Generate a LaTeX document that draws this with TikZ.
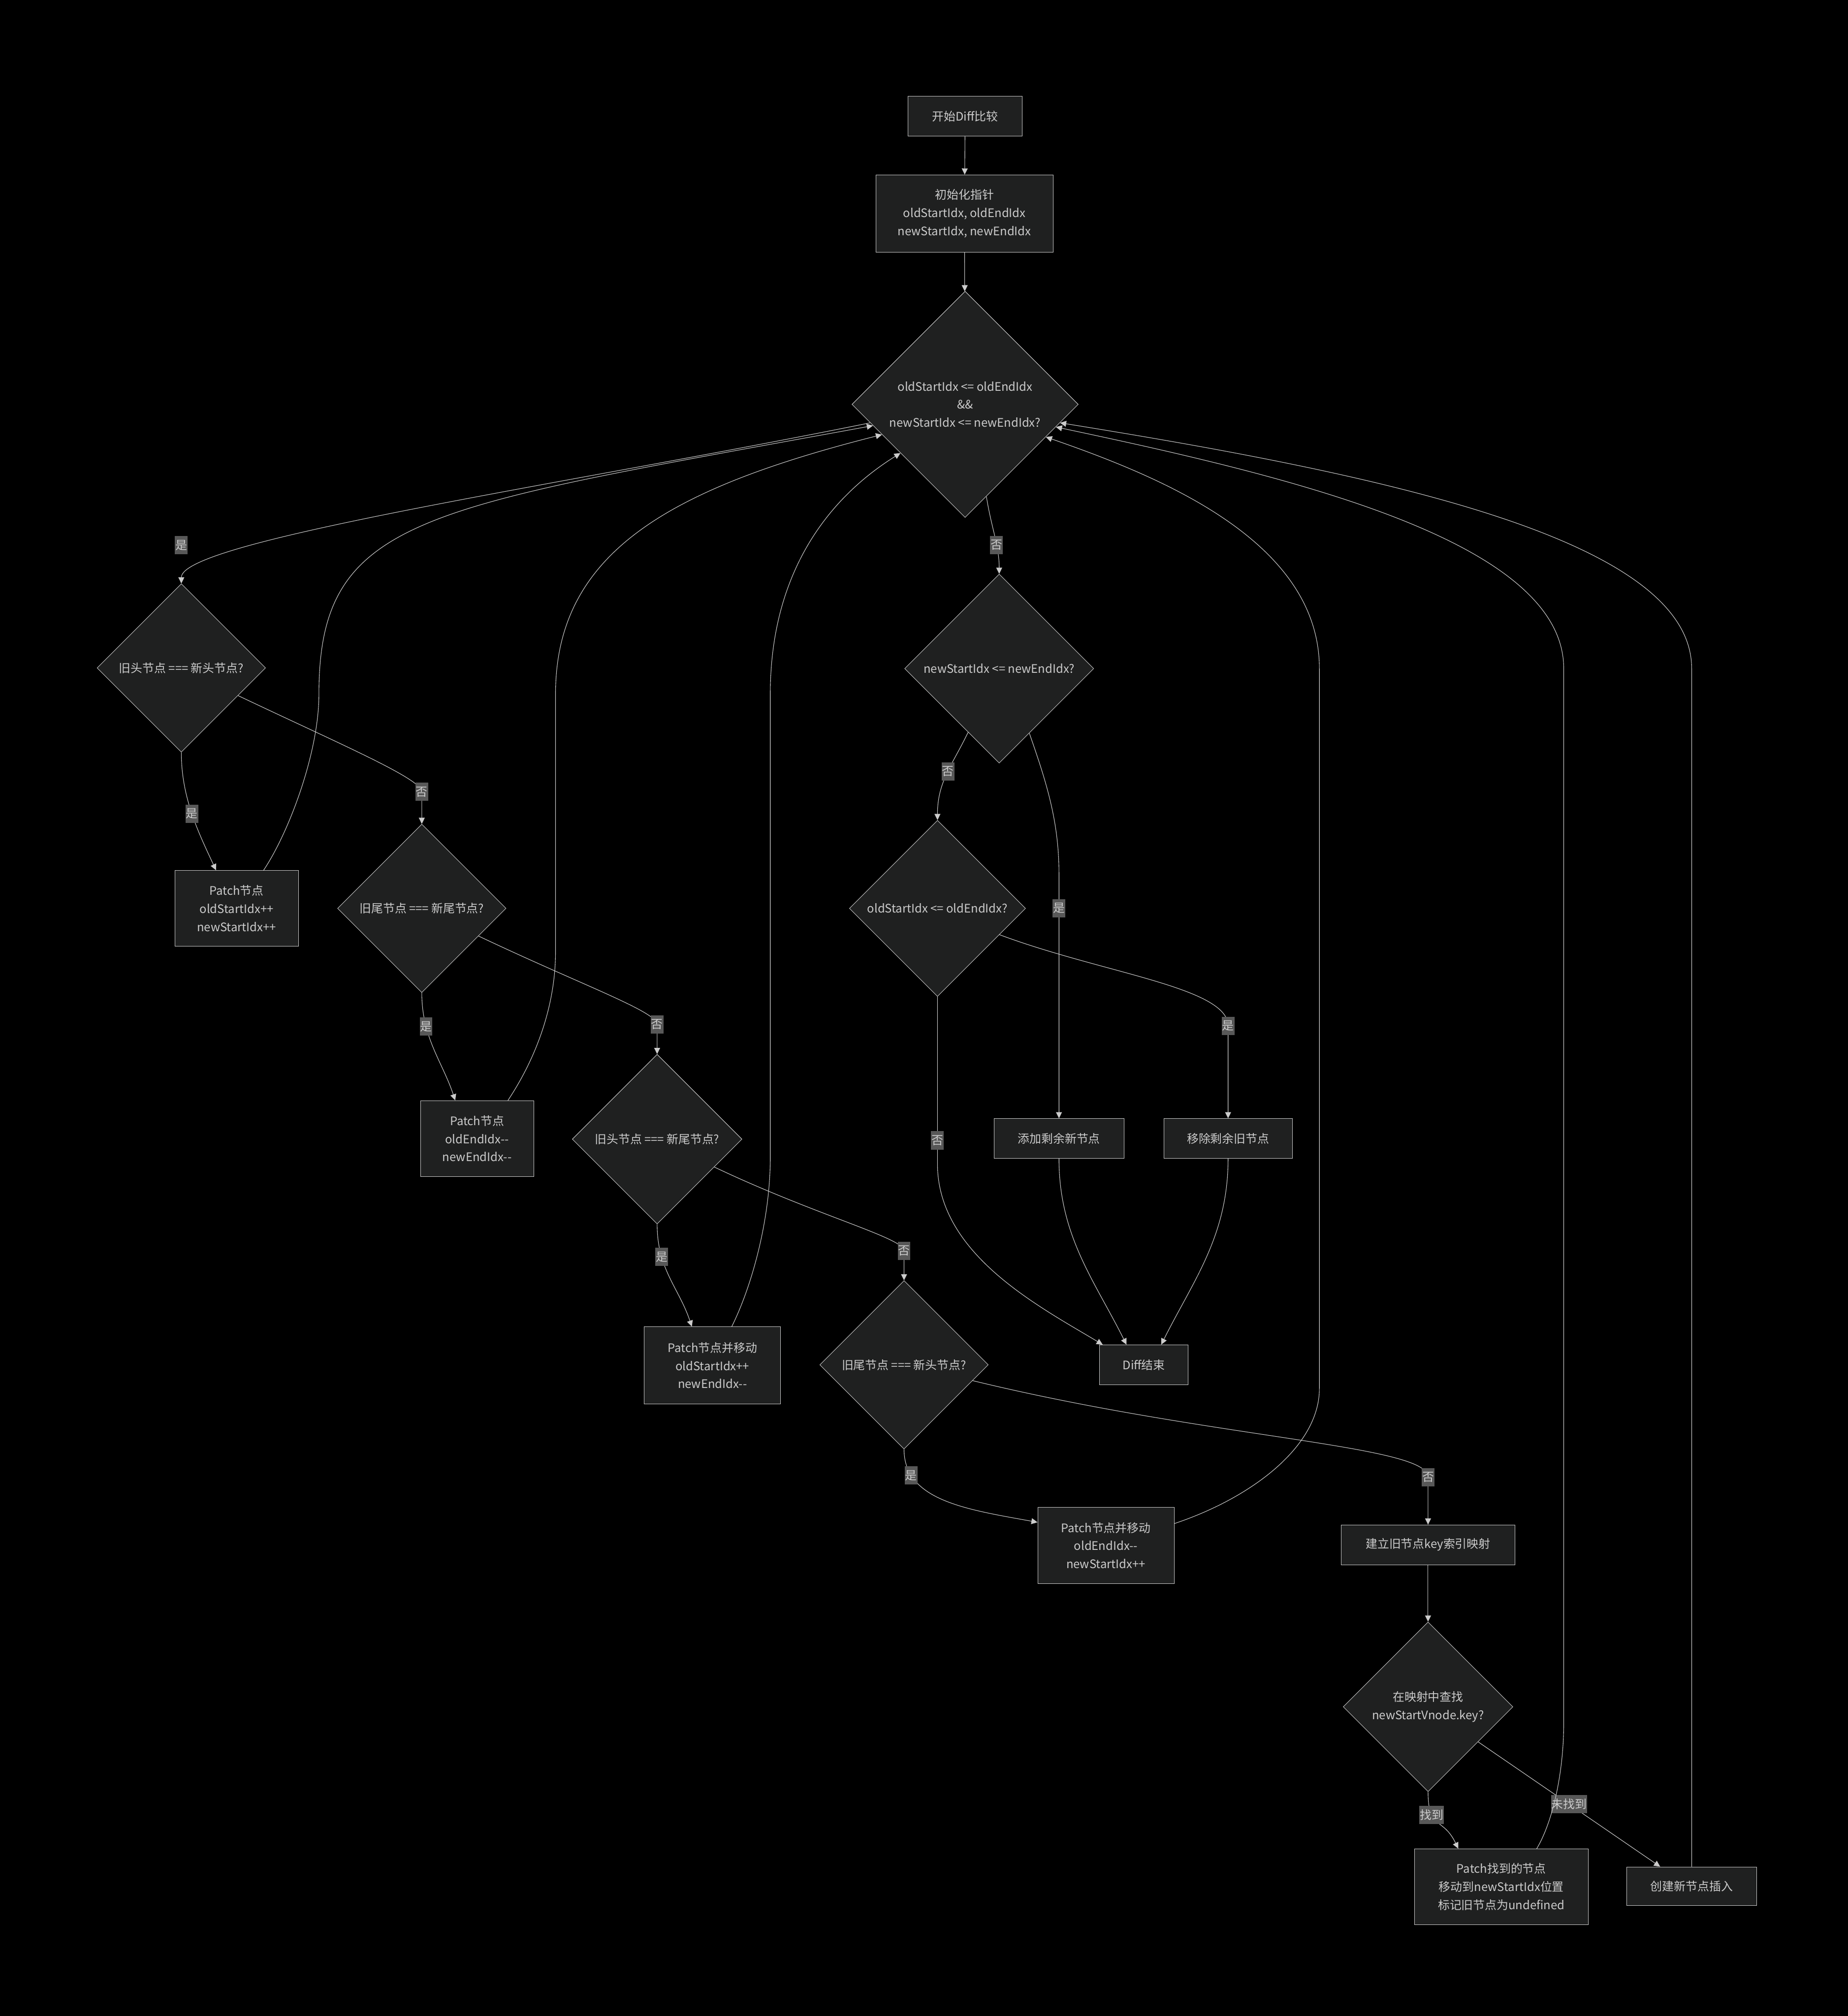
\documentclass[tikz,border=0pt]{standalone}
\usepackage{fontspec}
\setmainfont{Noto Sans CJK SC}
\usetikzlibrary{arrows.meta,shapes.geometric}

\definecolor{bgblack}{HTML}{000000}
\definecolor{boxfill}{HTML}{1F2020}
\definecolor{edgegray}{HTML}{CCCCCC}
\definecolor{lblfill}{HTML}{585858}

\begin{document}
\begin{tikzpicture}[
    x=0.05cm, y=-0.05cm,
    >={Triangle[length=2.4mm,width=2.3mm]},
    every node/.style={font=\fontsize{13}{20}\selectfont, text=edgegray},
    proc/.style={
        draw=edgegray,
        fill=boxfill,
        line width=0.5pt,
        align=center,
        inner sep=2pt
    },
    cond/.style={
        draw=edgegray,
        fill=boxfill,
        line width=0.5pt,
        diamond,
        aspect=1,
        align=center,
        inner sep=0pt
    },
    lbl/.style={
        fill=lblfill,
        inner xsep=0.5pt,
        inner ysep=0pt,
        minimum height=0.71cm
    },
    flow/.style={->, draw=edgegray, line width=0.6pt}
]

\path[use as bounding box, fill=bgblack] (0,0) rectangle (1437,1568);

\node[proc, minimum width=4.45cm, minimum height=1.55cm] (Start) at (750.5,90.5) {开始Diff比较};
\node[proc, minimum width=6.9cm, minimum height=3cm] (Init) at (750,166)
    {初始化指针\\oldStartIdx, oldEndIdx\\newStartIdx, newEndIdx};
\node[cond, minimum size=8.8cm] (Loop) at (750.5,314.5)
    {oldStartIdx <= oldEndIdx\\ \&\&\\ newStartIdx <= newEndIdx?};

\node[cond, minimum size=6.55cm] (HeadHead) at (141,519.5) {旧头节点 === 新头节点?};
\node[proc, minimum width=4.8cm, minimum height=2.95cm] (PatchHH) at (184,706.5)
    {Patch节点\\oldStartIdx++\\newStartIdx++};
\node[cond, minimum size=6.55cm] (TailTail) at (328,706.5) {旧尾节点 === 新尾节点?};
\node[proc, minimum width=4.4cm, minimum height=2.95cm] (PatchTT) at (371,885.5)
    {Patch节点\\oldEndIdx-{}-\\newEndIdx-{}-};
\node[cond, minimum size=6.6cm] (HeadTail) at (511,886) {旧头节点 === 新尾节点?};
\node[proc, minimum width=5.3cm, minimum height=3cm] (PatchHT) at (554,1062)
    {Patch节点并移动\\oldStartIdx++\\newEndIdx-{}-};
\node[cond, minimum size=6.55cm] (TailHead) at (703,1061.5) {旧尾节点 === 新头节点?};
\node[proc, minimum width=5.3cm, minimum height=2.95cm] (PatchTH) at (860,1202)
    {Patch节点并移动\\oldEndIdx-{}-\\newStartIdx++};
\node[proc, minimum width=6.75cm, minimum height=1.55cm] (KeyMap) at (1110.5,1201.5) {建立旧节点key索引映射};
\node[cond, minimum size=6.6cm] (FindKey) at (1110.5,1327.5) {在映射中查找\\newStartVnode.key?};
\node[proc, minimum width=6.75cm, minimum height=2.95cm] (PatchFound) at (1167.5,1467.5)
    {Patch找到的节点\\移动到newStartIdx位置\\标记旧节点为undefined};
\node[proc, minimum width=5.05cm, minimum height=1.5cm] (CreateNew) at (1315.5,1467) {创建新节点插入};

\node[cond, minimum size=7.35cm] (NewLeft) at (777,520) {newStartIdx <= newEndIdx?};
\node[cond, minimum size=6.85cm] (OldLeft) at (729,706.5) {oldStartIdx <= oldEndIdx?};
\node[proc, minimum width=5.05cm, minimum height=1.55cm] (AddRest) at (823.5,885.5) {添加剩余新节点};
\node[proc, minimum width=5cm, minimum height=1.55cm] (RemoveRest) at (955,885.5) {移除剩余旧节点};
\node[proc, minimum width=3.45cm, minimum height=1.55cm] (DiffEnd) at (889.5,1061.5) {Diff结束};

\draw[flow] (Start) -- (Init);
\draw[flow] (Init) -- (Loop);
\draw[flow] (Loop.191) .. controls (450,375) and (141,420) .. (HeadHead.north)
    node[lbl] at (141,424) {是};
\draw[flow] (Loop.-77) .. controls +(4,25) and +(0,-22) .. (NewLeft.north)
    node[lbl, pos=0.62] {否};

\draw[flow] (HeadHead.south) .. controls +(0,35) and +(-14,-30) .. ([xshift=-0.8cm]PatchHH.north)
    node[lbl, pos=0.5] {是};
\draw[flow] (HeadHead.-26) .. controls +(80,38) and +(0,-10) .. ([yshift=1.25cm]TailTail.north)
    -- node[lbl, pos=0] {否} (TailTail.north);
\draw[flow] ([xshift=1.05cm]PatchHH.north) .. controls +(20,-30) and +(0,45) .. (248,540)
    .. controls (248,400) and (330,395) .. (Loop.193);

\draw[flow] (TailTail.south) .. controls +(0,35) and +(-10,-30) .. ([xshift=-0.85cm]PatchTT.north)
    node[lbl, pos=0.28] {是};
\draw[flow] (TailTail.-26) .. controls +(80,38) and +(0,-10) .. ([yshift=1.15cm]HeadTail.north)
    -- node[lbl, pos=0] {否} (HeadTail.north);
\draw[flow] ([xshift=1.2cm]PatchTT.north) .. controls +(20,-30) and +(0,45) .. (432,740)
    -- (432,540) .. controls (432,430) and (520,380) .. (Loop.200);

\draw[flow] (HeadTail.south) .. controls +(0,35) and +(-10,-30) .. ([xshift=-0.8cm]PatchHT.north)
    node[lbl, pos=0.28] {是};
\draw[flow] (HeadTail.-26) .. controls +(80,38) and +(0,-10) .. ([yshift=1.15cm]TailHead.north)
    -- node[lbl, pos=0] {否} (TailHead.north);
\draw[flow] ([xshift=0.75cm]PatchHT.north) .. controls +(15,-30) and +(0,50) .. (599,900)
    -- (599,540) .. controls (599,450) and (640,390) .. (Loop.217);

\draw[flow] (TailHead.south) .. controls +(0,40) and +(-55,-10) .. ([yshift=0.9cm]PatchTH.west)
    node[lbl, pos=0.2] {是};
\draw[flow] (TailHead.-13) .. controls +(185,45) and +(0,-25) .. ([yshift=1.85cm]KeyMap.north)
    -- node[lbl, pos=0] {否} (KeyMap.north);
\draw[flow] ([yshift=0.85cm]PatchTH.east) .. controls +(60,-20) and +(0,45) .. (1026,1080)
    -- (1026,520) .. controls (1026,420) and (900,370) .. (Loop.-22);

\draw[flow] (KeyMap) -- (FindKey);
\draw[flow] (FindKey.south) .. controls +(0,30) and +(-12,-25) .. ([xshift=-1.675cm]PatchFound.north)
    node[lbl, pos=0.3] {找到};
\draw[flow] (FindKey.-35) -- ([xshift=-1.225cm]CreateNew.north)
    node[lbl, midway] {未找到};
\draw[flow] ([xshift=1.375cm]PatchFound.north) .. controls +(12,-20) and +(0,40) .. (1216,1340)
    -- (1216,520) .. controls (1216,420) and (1000,370) .. (Loop.-14);
\draw[flow] (CreateNew.north) -- (1315.5,520) .. controls (1315.5,420) and (1080,370) .. (Loop.-11);

\draw[flow] (NewLeft.244) .. controls +(-12,25) and +(0,-30) .. (OldLeft.north)
    node[lbl, pos=0.47] {否};
\draw[flow] (NewLeft.-65) .. controls +(14,40) and +(0,-40) .. ([yshift=9.5cm]AddRest.north)
    -- node[lbl, pos=0.14] {是} (AddRest.north);
\draw[flow] (OldLeft.-23) .. controls +(80,30) and +(0,-30) .. ([yshift=3.6cm]RemoveRest.north)
    -- node[lbl, pos=0] {是} (RemoveRest.north);
\draw[flow] (OldLeft.south) -- node[lbl, pos=0.86] {否} ++(0,130)
    .. controls +(0,70) and +(-50,-30) .. ([xshift=-1.6cm]DiffEnd.north);
\draw[flow] (AddRest.south) .. controls +(0,60) and +(-25,-50) .. ([xshift=-0.675cm]DiffEnd.north);
\draw[flow] (RemoveRest.south) .. controls +(0,60) and +(25,-50) .. ([xshift=0.675cm]DiffEnd.north);

\end{tikzpicture}
\end{document}
